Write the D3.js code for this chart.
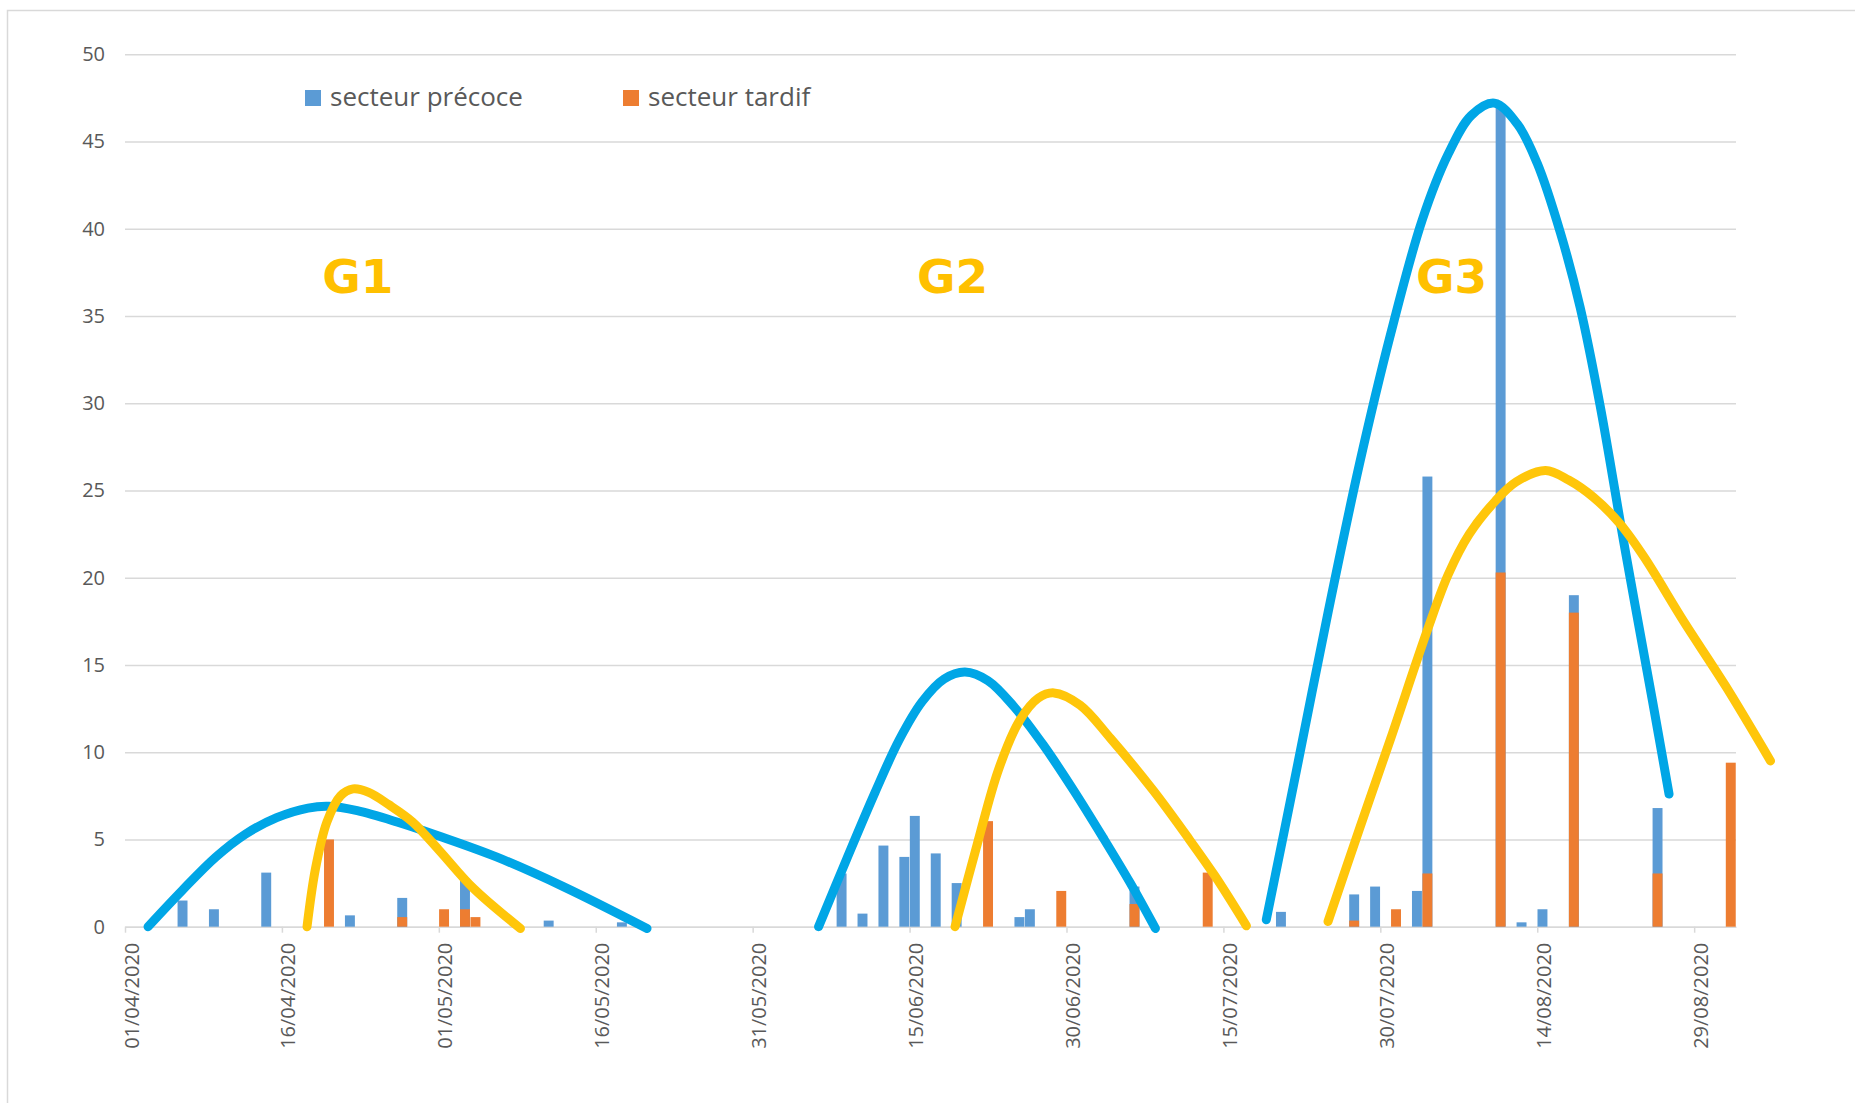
<!DOCTYPE html>
<html>
<head>
<meta charset="utf-8">
<script src="https://cdn.jsdelivr.net/npm/d3@7"></script>
<style>
  body { margin: 0; background: #fff; }
  text { font-family: "Open Sans", "Noto Sans", sans-serif; }
</style>
</head>
<body>
<svg id="chart" width="1855" height="1103"></svg>
<script>
// bars : secteur précoce (bleu) et secteur tardif (orange), superposés
const precoceDates = ["06/04/2020","09/04/2020","14/04/2020","22/04/2020","27/04/2020","03/05/2020",
  "11/05/2020","18/05/2020","08/06/2020","10/06/2020","12/06/2020","14/06/2020","15/06/2020",
  "17/06/2020","19/06/2020","25/06/2020","26/06/2020","06/07/2020","20/07/2020","27/07/2020",
  "29/07/2020","02/08/2020","03/08/2020","10/08/2020","12/08/2020","14/08/2020","17/08/2020","25/08/2020"];
const precoceValues = [1.5, 1.0, 3.1, 0.65, 1.65, 2.75,
  0.35, 0.25, 3.05, 0.75, 4.65, 4.0, 6.35,
  4.2, 2.5, 0.55, 1.0, 2.3, 0.85, 1.85,
  2.3, 2.05, 25.8, 47, 0.25, 1.0, 19, 6.8];

const tardifDates = ["20/04/2020","27/04/2020","01/05/2020","03/05/2020","04/05/2020","22/06/2020",
  "29/06/2020","06/07/2020","13/07/2020","27/07/2020","31/07/2020","03/08/2020","10/08/2020",
  "17/08/2020","25/08/2020","01/09/2020"];
const tardifValues = [5.0, 0.55, 1.0, 1.0, 0.55, 6.05,
  2.05, 1.3, 3.1, 0.35, 1.0, 3.05, 20.3,
  18, 3.05, 9.4];

const xTickLabels = ["01/04/2020","16/04/2020","01/05/2020","16/05/2020","31/05/2020","15/06/2020",
  "30/06/2020","15/07/2020","30/07/2020","14/08/2020","29/08/2020"];
const yTicks = [0, 5, 10, 15, 20, 25, 30, 35, 40, 45, 50];

// courbes tracées à la main : [jours depuis le 01/04, valeur]
const g1Precoce = [[2.2,0],[5.5,2.1],[8.7,4.0],[11.5,5.3],[14.5,6.25],[17.5,6.8],[19.5,6.9],[22.2,6.65],
  [26,6.0],[30,5.2],[35.5,4.0],[41.9,2.3],[49.9,-0.1]];
const g1Tardif = [[17.4,0],[18.2,3.3],[19.3,6.0],[20.6,7.5],[21.8,7.9],[23.3,7.7],[25.2,7.0],[27.5,6.0],
  [30,4.4],[33.3,2.2],[37.8,-0.1]];
const g2Precoce = [[66.3,0],[69,3.9],[71.7,7.7],[74,10.7],[76.2,12.9],[78.3,14.2],[80.3,14.6],[82.5,14.1],
  [85,12.6],[87.8,10.4],[90.7,7.8],[93.5,5.1],[96.1,2.5],[98.5,-0.1]];
const g2Tardif = [[79.35,0],[81.5,4.8],[83.5,9.0],[85.5,11.8],[87.3,13.1],[88.8,13.4],[91.3,12.7],[94.2,10.8],
  [98.3,7.8],[101.5,5.2],[104.2,2.9],[107.2,0.05]];
const g3Precoce = [[109.1,0.4],[112,9],[115,18],[118,26.5],[121,34],[124,40.5],[126.5,44.3],[128.7,46.5],
  [130.9,47.2],[133.1,46.0],[135,43.75],[137.2,39.8],[139.1,35.5],[141,29.9],[143.4,21.6],[146,13.0],[147.6,7.6]];
const g3Tardif = [[115,0.3],[118,5.6],[121,10.8],[124.5,17],[126.5,20.2],[128.5,22.5],[131,24.4],[133,25.5],
  [135.8,26.15],[138,25.6],[140.4,24.6],[142.9,23.1],[145.2,21.2],[149,17.5],[153,13.8],[157.3,9.5]];

const groupNames = ["G1", "G2", "G3"];
const groupDays = [18.85, 75.7, 123.4];

const parse = d3.utcParse("%d/%m/%Y");
const fmt = d3.utcFormat("%d/%m/%Y");
const t0 = parse("01/04/2020");
const dayToDate = d => new Date(t0.getTime() + d * 864e5);

const svg = d3.select("#chart");

// cadre du graphique
svg.append("rect")
  .attr("x", 7.5).attr("y", 10.5)
  .attr("width", 1900).attr("height", 1200)
  .attr("fill", "#fff").attr("stroke", "#d9d9d9").attr("stroke-width", 1.5);

const x = d3.scaleUtc()
  .domain([t0, parse("02/09/2020")])
  .range([125, 1736]);
const y = d3.scaleLinear()
  .domain([0, 50])
  .range([926.7, 54.3]);

const dayW = x(dayToDate(1)) - x(t0);
const barW = dayW * 0.95;

// grille + axe y
const yAxis = d3.axisLeft(y)
  .tickValues(yTicks)
  .tickSize(-(1736 - 125))
  .tickPadding(20);
const gy = svg.append("g")
  .attr("transform", "translate(125,0)")
  .call(yAxis);
gy.select(".domain").remove();
gy.selectAll(".tick line").attr("stroke", "#d9d9d9").attr("stroke-width", 1.5);
gy.selectAll(".tick text")
  .attr("fill", "#595959")
  .style("font-size", "20px");

// axe x
const xAxis = d3.axisBottom(x)
  .tickValues(xTickLabels.map(parse))
  .tickFormat(fmt)
  .tickSize(6)
  .tickSizeOuter(0);
const gx = svg.append("g")
  .attr("transform", "translate(0," + y(0) + ")")
  .call(xAxis);
gx.select(".domain").attr("stroke", "#d9d9d9").attr("stroke-width", 1.5);
gx.selectAll(".tick line").attr("stroke", "#d9d9d9").attr("stroke-width", 1.5);
gx.selectAll(".tick text")
  .attr("fill", "#595959")
  .style("font-size", "20px")
  .attr("text-anchor", "end")
  .attr("transform", "rotate(-90)")
  .attr("x", -16)
  .attr("y", 13)
  .attr("dy", 0);

// barres
const precoce = precoceDates.map((d, i) => ({ date: parse(d), v: precoceValues[i] }));
const tardif = tardifDates.map((d, i) => ({ date: parse(d), v: tardifValues[i] }));

svg.append("g").selectAll("rect")
  .data(precoce)
  .enter().append("rect")
  .attr("x", d => x(d.date) + (dayW - barW) / 2)
  .attr("y", d => y(d.v))
  .attr("width", barW)
  .attr("height", d => y(0) - y(d.v))
  .attr("fill", "#5b9bd5");

svg.append("g").selectAll("rect")
  .data(tardif)
  .enter().append("rect")
  .attr("x", d => x(d.date) + (dayW - barW) / 2)
  .attr("y", d => y(d.v))
  .attr("width", barW)
  .attr("height", d => y(0) - y(d.v))
  .attr("fill", "#ed7d31");

// courbes
const line = d3.line()
  .x(d => x(dayToDate(d[0])))
  .y(d => y(d[1]))
  .curve(d3.curveCatmullRom.alpha(0.5));

[g1Precoce, g2Precoce, g3Precoce].forEach(pts => {
  svg.append("path")
    .datum(pts)
    .attr("d", line)
    .attr("fill", "none")
    .attr("stroke", "#00a6e6")
    .attr("stroke-width", 9)
    .attr("stroke-linecap", "round")
    .attr("stroke-linejoin", "round");
});
[g1Tardif, g2Tardif, g3Tardif].forEach(pts => {
  svg.append("path")
    .datum(pts)
    .attr("d", line)
    .attr("fill", "none")
    .attr("stroke", "#ffc60a")
    .attr("stroke-width", 9)
    .attr("stroke-linecap", "round")
    .attr("stroke-linejoin", "round");
});

// étiquettes G1 G2 G3
svg.append("g").selectAll("text")
  .data(groupNames)
  .enter().append("text")
  .attr("x", (d, i) => x(dayToDate(groupDays[i])))
  .attr("y", y(36.3))
  .attr("fill", "#ffc000")
  .style("font-family", "'DejaVu Sans', Verdana, sans-serif")
  .style("font-weight", "bold")
  .style("font-size", "47px")
  .text(d => d);

// légende
const legend = [
  { name: "secteur précoce", color: "#5b9bd5", x: 305 },
  { name: "secteur tardif", color: "#ed7d31", x: 623 }
];
const lg = svg.append("g").selectAll("g")
  .data(legend)
  .enter().append("g")
  .attr("transform", d => "translate(" + d.x + ",90)");
lg.append("rect")
  .attr("width", 16).attr("height", 16)
  .attr("fill", d => d.color);
lg.append("text")
  .attr("x", 25).attr("y", 16)
  .attr("fill", "#595959")
  .style("font-size", "26px")
  .text(d => d.name);
</script>
</body>
</html>
